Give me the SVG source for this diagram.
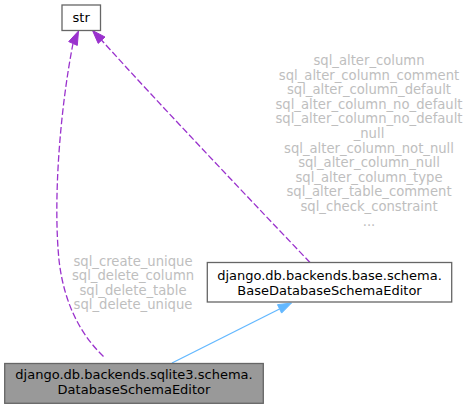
<svg xmlns="http://www.w3.org/2000/svg" width="468" height="408" viewBox="0 0 468 408">
<style>
  .box { stroke: #666666; stroke-width: 1.3; }
  .t { font-family: "DejaVu Sans", sans-serif; font-size: 13px; fill: #000000; text-anchor: middle; }
  .lbl { font-family: "DejaVu Sans", sans-serif; font-size: 13.2px; fill: #bebebe; text-anchor: middle; }
  .dash { fill: none; stroke: #9a32cd; stroke-width: 1.3; stroke-dasharray: 6.7,2.7; }
  .solid { fill: none; stroke: #63b8ff; stroke-width: 1.3; }
</style>
<rect width="468" height="408" fill="#ffffff"/>
<g id="connectors">
  <path class="dash" d="M103.5,356.5 C82,336 64,305 59,260 C53,200 60,110 73,43.5"/>
  <polygon points="78.5,31 77.3,45.4 68.7,41.6" fill="#9a32cd" stroke="#9a32cd"/>
  <path class="dash" d="M310,262.5 C260,210 160,105 101.6,40.2"/>
  <polygon points="92.5,30.5 105,37 98.2,43.4" fill="#9a32cd" stroke="#9a32cd"/>
  <path class="solid" d="M172,363 L279.5,309"/>
  <polygon points="291.5,303 281.6,313.1 277.5,304.65" fill="#63b8ff" stroke="#63b8ff"/>
  <g id="label-left">
    <text class="lbl" x="133" y="265.5">sql_create_unique</text>
    <text class="lbl" x="133" y="280">sql_delete_column</text>
    <text class="lbl" x="133" y="294.5">sql_delete_table</text>
    <text class="lbl" x="133" y="309">sql_delete_unique</text>
  </g>
  <g id="label-right">
    <text class="lbl" x="369" y="65">sql_alter_column</text>
    <text class="lbl" x="369" y="79.6">sql_alter_column_comment</text>
    <text class="lbl" x="369" y="94.2">sql_alter_column_default</text>
    <text class="lbl" x="369" y="108.8">sql_alter_column_no_default</text>
    <text class="lbl" x="369" y="123.4">sql_alter_column_no_default</text>
    <text class="lbl" x="369" y="138">_null</text>
    <text class="lbl" x="369" y="152.6">sql_alter_column_not_null</text>
    <text class="lbl" x="369" y="167.2">sql_alter_column_null</text>
    <text class="lbl" x="369" y="181.8">sql_alter_column_type</text>
    <text class="lbl" x="369" y="196.4">sql_alter_table_comment</text>
    <text class="lbl" x="369" y="211">sql_check_constraint</text>
    <text class="lbl" x="369" y="225.6">...</text>
  </g>
</g>
<g id="node-str">
  <rect class="box" x="62" y="5" width="38.5" height="25.5" fill="#ffffff"/>
  <text class="t" x="81.2" y="22.3">str</text>
</g>
<g id="node-base">
  <rect class="box" x="207.3" y="262.5" width="244.4" height="39.5" fill="#ffffff"/>
  <text class="t" x="329.5" y="280">django.db.backends.base.schema.</text>
  <text class="t" x="329.5" y="294.5">BaseDatabaseSchemaEditor</text>
</g>
<g id="node-sqlite">
  <rect class="box" x="4.7" y="363.5" width="258.6" height="39.8" fill="#999999"/>
  <text class="t" x="134" y="379.2">django.db.backends.sqlite3.schema.</text>
  <text class="t" x="134" y="393.8">DatabaseSchemaEditor</text>
</g>
</svg>
